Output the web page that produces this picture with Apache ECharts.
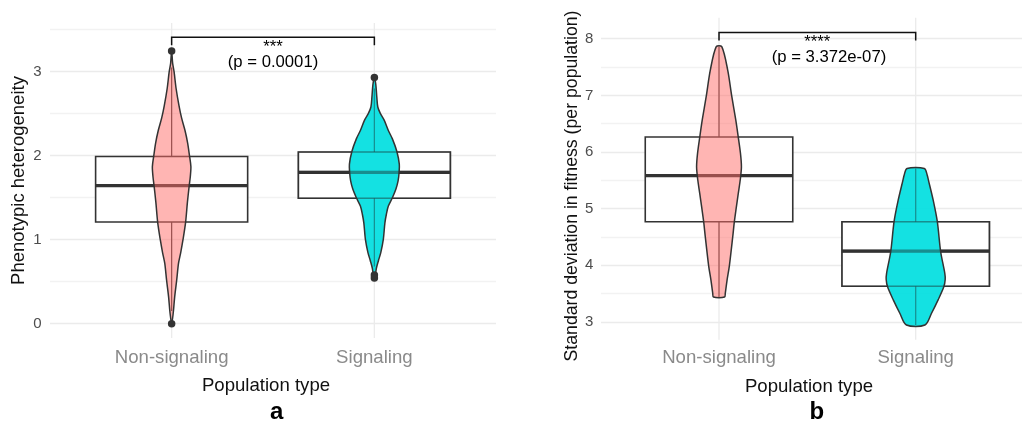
<!DOCTYPE html>
<html>
<head>
<meta charset="utf-8">
<script src="https://cdn.jsdelivr.net/npm/echarts@6/dist/echarts.min.js"></script>
<style>html,body{margin:0;padding:0;background:#fff}#c{width:1022px;height:422px}</style>
</head>
<body>
<div id="c"></div>
<script>
// ---------------- DATA ----------------
const categories = ['Non-signaling', 'Signaling'];
const catPositions = [1, 2];

// Panel a: Phenotypic heterogeneity
// box stats per category: [lowerWhisker, q1, median, q3, upperWhisker]
const aBoxStats = [
  [0.15, 1.21, 1.643, 1.99, 3.05],
  [0.68, 1.493, 1.802, 2.044, 2.80]
];
const aOutliers = [[1, 3.246], [1, 0.0], [2, 2.93], [2, 0.58], [2, 0.545]];
// violin profiles: [value, half-width in category units]
const aViolinNon = [
  [3.246, 0], [3.10, 0.005], [3.00, 0.012], [2.80, 0.022], [2.60, 0.036], [2.45, 0.049],
  [2.30, 0.066], [2.15, 0.079], [2.00, 0.088], [1.87, 0.095], [1.75, 0.092], [1.65, 0.087],
  [1.45, 0.078], [1.21, 0.069], [1.00, 0.056], [0.85, 0.045], [0.72, 0.034], [0.52, 0.025],
  [0.32, 0.015], [0.13, 0.008], [0.00, 0]
];
const aViolinSig = [
  [2.93, 0], [2.85, 0.007], [2.70, 0.012], [2.58, 0.017], [2.50, 0.030], [2.42, 0.049],
  [2.30, 0.069], [2.20, 0.089], [2.05, 0.111], [1.90, 0.123], [1.80, 0.122], [1.70, 0.117],
  [1.60, 0.106], [1.50, 0.089], [1.40, 0.069], [1.30, 0.059], [1.20, 0.052], [1.00, 0.044],
  [0.85, 0.032], [0.75, 0.020], [0.66, 0.010], [0.58, 0.005], [0.545, 0]
];
const aBracketY = 3.41;
const aStars = '***';
const aPText = '(p = 0.0001)';
const aYTicks = [0, 1, 2, 3];
const aYTitle = 'Phenotypic heterogeneity';
const aTag = 'a';

// Panel b: Standard deviation in fitness
const bBoxStats = [
  [3.44, 4.77, 5.583, 6.265, 7.86],
  [2.947, 3.63, 4.25, 4.77, 5.71]
];
const bOutliers = [];
const bViolinNon = [
  [7.86, 0.014], [7.45, 0.044], [6.98, 0.065], [6.57, 0.085], [6.26, 0.098], [5.98, 0.109],
  [5.74, 0.114], [5.51, 0.108], [5.27, 0.098], [5.00, 0.087], [4.77, 0.078], [4.51, 0.070],
  [4.00, 0.053], [3.74, 0.041], [3.51, 0.032], [3.44, 0.028]
];
const bViolinSig = [
  [5.71, 0.044], [5.60, 0.058], [5.50, 0.065], [5.15, 0.089], [4.77, 0.110], [4.24, 0.127],
  [3.86, 0.148], [3.75, 0.150], [3.62, 0.143], [3.39, 0.114], [3.15, 0.080], [2.947, 0.047]
];
const bBracketY = 8.11;
const bStars = '****';
const bPText = '     (p = 3.372e-07)';
const bYTicks = [3, 4, 5, 6, 7, 8];
const bYTitle = 'Standard deviation in fitness (per population)';
const bTag = 'b';

const xTitle = 'Population type';

// ---------------- STYLE ----------------
const FONT = "'Liberation Sans', Arial, Helvetica, sans-serif";
const BOX_WIDTH = 0.75;
const violinFills = ['rgba(255,108,104,0.5)', 'rgba(0,222,224,0.92)'];
const overlayAlpha = [0, 0.42];
const LINE = '#333333';
const GRID_MAJOR = '#EBEBEB';
const GRID_MINOR = '#F2F2F2';

// ggplot-like expansions
function expandRange(values) {
  const lo = Math.min(...values), hi = Math.max(...values);
  const pad = (hi - lo) * 0.05;
  return [lo - pad, hi + pad];
}

function boxChildren(api, withFill, opacity) {
  const x = api.value(0), lo = api.value(1), q1 = api.value(2), med = api.value(3), q3 = api.value(4), hi = api.value(5);
  const hw = BOX_WIDTH / 2;
  const tl = api.coord([x - hw, q3]), br = api.coord([x + hw, q1]);
  const m = api.coord([x, med]);
  const pLo = api.coord([x, lo]), pQ1 = api.coord([x, q1]), pQ3 = api.coord([x, q3]), pHi = api.coord([x, hi]);
  return [
    { type: 'line', shape: { x1: pQ3[0], y1: pQ3[1], x2: pHi[0], y2: pHi[1] }, style: { stroke: LINE, lineWidth: 1.2, opacity } },
    { type: 'line', shape: { x1: pQ1[0], y1: pQ1[1], x2: pLo[0], y2: pLo[1] }, style: { stroke: LINE, lineWidth: 1.2, opacity } },
    { type: 'rect', shape: { x: tl[0], y: tl[1], width: br[0] - tl[0], height: br[1] - tl[1] },
      style: { fill: withFill ? '#ffffff' : 'none', stroke: LINE, lineWidth: 1.6, opacity } },
    { type: 'line', shape: { x1: tl[0], y1: m[1], x2: br[0], y2: m[1] }, style: { stroke: LINE, lineWidth: 3.2, opacity } }
  ];
}

function panel(g, boxStats, violins, outliers, bracketY, stars, pText) {
  const allVals = [];
  boxStats.forEach(s => allVals.push(...s));
  outliers.forEach(o => allVals.push(o[1]));
  violins.forEach(v => v.forEach(p => allVals.push(p[0])));
  allVals.push(bracketY);
  const [pLo, pHi] = expandRange(allVals);
  const boxData = boxStats.map((s, i) => [catPositions[i], ...s]);
  return [
    { // vertical major gridlines at categories
      type: 'custom', xAxisIndex: g, yAxisIndex: g, silent: true, z: 0,
      data: catPositions.map(c => [c, pLo, pHi]),
      encode: { x: 0, y: [1, 2] },
      renderItem(params, api) {
        const a = api.coord([api.value(0), api.value(1)]), b = api.coord([api.value(0), api.value(2)]);
        return { type: 'line', shape: { x1: a[0], y1: a[1], x2: b[0], y2: b[1] }, style: { stroke: GRID_MAJOR, lineWidth: 1.3 } };
      }
    },
    { // boxes
      type: 'custom', xAxisIndex: g, yAxisIndex: g, silent: true, z: 2,
      data: boxData, encode: { x: 0, y: [1, 2, 3, 4, 5] },
      renderItem(params, api) { return { type: 'group', children: boxChildren(api, true, 1) }; }
    },
    { // violins
      type: 'custom', xAxisIndex: g, yAxisIndex: g, silent: true, z: 3,
      data: catPositions.map(c => [c]), encode: { x: 0 },
      renderItem(params, api) {
        const x = api.value(0);
        const prof = violins[params.dataIndex];
        const right = prof.map(p => api.coord([x + p[1], p[0]]));
        const left = [];
        for (let i = prof.length - 1; i >= 0; i--) {
          if (prof[i][1] === 0) continue;
          left.push(api.coord([x - prof[i][1], prof[i][0]]));
        }
        return { type: 'polygon', shape: { points: right.concat(left), smooth: 0.3 },
          style: { fill: violinFills[params.dataIndex], stroke: LINE, lineWidth: 1.5 } };
      }
    },
    { // box lines seen through the violin
      type: 'custom', xAxisIndex: g, yAxisIndex: g, silent: true, z: 4,
      data: boxData, encode: { x: 0, y: [1, 2, 3, 4, 5] },
      renderItem(params, api) { return { type: 'group', children: boxChildren(api, false, overlayAlpha[params.dataIndex]) }; }
    },
    { // outliers
      type: 'scatter', xAxisIndex: g, yAxisIndex: g, silent: true, z: 5, clip: false,
      data: outliers, symbol: 'circle', symbolSize: 7.5, itemStyle: { color: LINE, opacity: 1 }
    },
    { // significance bracket
      type: 'custom', xAxisIndex: g, yAxisIndex: g, silent: true, z: 6,
      data: [[catPositions[0], catPositions[1], bracketY]], encode: { x: [0, 1], y: 2 },
      renderItem(params, api) {
        const p1 = api.coord([api.value(0), api.value(2)]), p2 = api.coord([api.value(1), api.value(2)]);
        const tip = 8;
        return { type: 'group', children: [
          { type: 'polyline', shape: { points: [[p1[0], p1[1] + tip], [p1[0], p1[1]], [p2[0], p2[1]], [p2[0], p2[1] + tip]] },
            style: { stroke: '#111', lineWidth: 1.5, fill: 'none' } },
          { type: 'text', x: (p1[0] + p2[0]) / 2, y: p1[1] + 2.5,
            style: { text: stars + '\n' + pText, align: 'center', verticalAlign: 'top', font: '16.7px ' + FONT, lineHeight: 15, fill: '#000' } }
        ] };
      }
    }
  ];
}

function yAxis(g, ticks, lo, hi, margin) {
  return {
    type: 'value', gridIndex: g, min: lo, max: hi, interval: 0.5,
    axisLine: { show: false }, axisTick: { show: false },
    axisLabel: { customValues: ticks, color: '#4D4D4D', fontSize: 15, fontFamily: FONT, margin },
    splitLine: { show: true, lineStyle: { color: [GRID_MAJOR, GRID_MINOR], width: 1.3 } }
  };
}
function xAxis(g, margin) {
  return {
    type: 'value', gridIndex: g, min: catPositions[0] - 0.6, max: catPositions[catPositions.length - 1] + 0.6,
    axisLine: { show: false }, axisTick: { show: false }, splitLine: { show: false },
    axisLabel: { customValues: catPositions, formatter: v => categories[catPositions.indexOf(Math.round(v))],
      color: '#8A8A8A', fontSize: 18.6, fontFamily: FONT, margin, verticalAlign: 'middle' }
  };
}

const option = {
  animation: false,
  backgroundColor: '#ffffff',
  grid: [
    { left: 50, width: 446, top: 29.7, height: 294, outerBoundsMode: 'none', containLabel: false },
    { left: 601, width: 432.7, top: 38.7, height: 283.3, outerBoundsMode: 'none', containLabel: false }
  ],
  xAxis: [xAxis(0, 33.8), xAxis(1, 35.5)],
  yAxis: [yAxis(0, aYTicks, 0, 3.5, 8.3), yAxis(1, bYTicks, 3, 8, 7.7)],
  series: [
    ...panel(0, aBoxStats, [aViolinNon, aViolinSig], aOutliers, aBracketY, aStars, aPText),
    ...panel(1, bBoxStats, [bViolinNon, bViolinSig], bOutliers, bBracketY, bStars, bPText)
  ],
  graphic: [
    { type: 'text', x: 19, y: 180.5, rotation: Math.PI / 2,
      style: { text: aYTitle, align: 'center', verticalAlign: 'middle', font: '18.5px ' + FONT, fill: '#111' } },
    { type: 'text', x: 572.5, y: 186, rotation: Math.PI / 2,
      style: { text: bYTitle, align: 'center', verticalAlign: 'middle', font: '17.7px ' + FONT, fill: '#111' } },
    { type: 'text', x: 266, y: 385.5,
      style: { text: xTitle, align: 'center', verticalAlign: 'middle', font: '18.6px ' + FONT, fill: '#111' } },
    { type: 'text', x: 809, y: 386.5,
      style: { text: xTitle, align: 'center', verticalAlign: 'middle', font: '18.6px ' + FONT, fill: '#111' } },
    { type: 'text', x: 276.7, y: 412,
      style: { text: aTag, align: 'center', verticalAlign: 'middle', font: 'bold 24px ' + FONT, fill: '#000' } },
    { type: 'text', x: 816.8, y: 412,
      style: { text: bTag, align: 'center', verticalAlign: 'middle', font: 'bold 24px ' + FONT, fill: '#000' } }
  ]
};

const chart = echarts.init(document.getElementById('c'), null, { renderer: 'canvas' });
chart.setOption(option);
</script>
</body>
</html>
